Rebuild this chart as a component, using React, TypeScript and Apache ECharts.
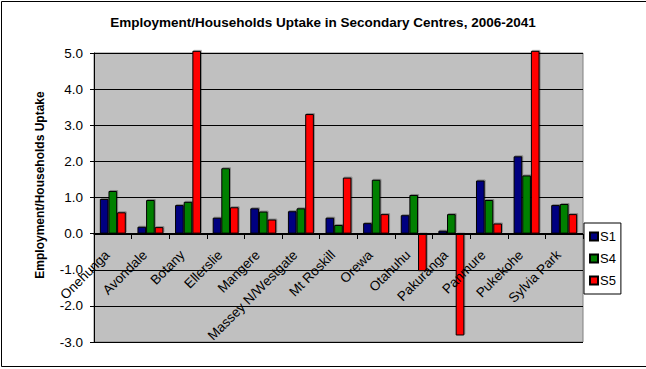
import React, { useEffect, useRef } from "react";
import * as echarts from "echarts";

const categories = [
  "Onehunga", "Avondale", "Botany", "Ellerslie", "Mangere", "Massey N/Westgate",
  "Mt Roskill", "Orewa", "Otahuhu", "Pakuranga", "Panmure", "Pukekohe", "Sylvia Park",
];
const s1 = [0.96, 0.19, 0.79, 0.44, 0.70, 0.62, 0.44, 0.29, 0.51, 0.08, 1.47, 2.14, 0.79];
const s4 = [1.18, 0.93, 0.88, 1.81, 0.61, 0.70, 0.24, 1.49, 1.07, 0.54, 0.93, 1.61, 0.82];
const s5 = [0.59, 0.18, 5.06, 0.73, 0.39, 3.31, 1.55, 0.54, -1.04, -2.82, 0.28, 5.06, 0.54];
const seriesNames = ["S1", "S4", "S5"];
const seriesColors = ["#000080", "#008000", "#FF0000"];

const FONT = "Liberation Sans, Arial, sans-serif";

export default function App() {
  const ref = useRef<HTMLDivElement>(null);
  useEffect(() => {
    if (!ref.current) return;
    const chart = echarts.init(ref.current, null, { renderer: "svg" });
    const data = [s1, s4, s5];
    chart.setOption({
      animation: false,
      backgroundColor: "#ffffff",
      title: {
        text: "Employment/Households Uptake in Secondary Centres, 2006-2041",
        left: "center",
        top: 10,
        textStyle: { fontFamily: FONT, fontSize: 13.5, fontWeight: "bold", color: "#000" },
      },
      legend: {
        orient: "vertical",
        left: 584,
        top: 223,
        width: 39,
        data: seriesNames,
        backgroundColor: "#fff",
        borderColor: "#000",
        borderWidth: 1,
        borderRadius: 0,
        padding: [7, 5, 7, 5],
        itemWidth: 8,
        itemHeight: 8,
        itemGap: 9,
        icon: "rect",
        textStyle: { fontFamily: FONT, fontSize: 13, color: "#000", padding: [0, 0, 0, -3] },
      },
      grid: {
        left: 94,
        right: 63,
        top: 53,
        bottom: 27,
        show: true,
        outerBoundsMode: "none",
        containLabel: false,
        backgroundColor: "#C0C0C0",
        borderColor: "#808080",
        borderWidth: 1,
      },
      xAxis: {
        type: "category",
        data: categories,
        offset: -108,
        z: 10,
        axisLine: { onZero: false, lineStyle: { color: "#000", width: 1 } },
        axisTick: { show: true, length: 5, inside: false, lineStyle: { color: "#000" } },
        axisLabel: {
          rotate: 45,
          interval: 0,
          margin: 13,
          padding: [0, 8, 0, 0],
          hideOverlap: false,
          fontFamily: FONT,
          fontSize: 13.5,
          color: "#000",
        },
        splitLine: { show: false },
      },
      yAxis: {
        type: "value",
        min: -3,
        max: 5,
        interval: 1,
        axisLine: { show: true, lineStyle: { color: "#000" } },
        axisTick: { show: true, length: 4, lineStyle: { color: "#000" } },
        axisLabel: {
          formatter: (v: number) => v.toFixed(1),
          fontFamily: FONT,
          fontSize: 13.5,
          color: "#000",
          margin: 11,
        },
        splitLine: { show: true, lineStyle: { color: "#000", width: 1 } },
      },
      graphic: [
        {
          type: "text",
          x: 40,
          y: 185,
          rotation: Math.PI / 2,
          style: {
            text: "Employment/Households Uptake",
            fontFamily: FONT,
            fontSize: 12,
            fontWeight: "bold",
            fill: "#000",
            textAlign: "center",
            textVerticalAlign: "middle",
          },
        },
        {
          type: "rect",
          shape: { x: 1.5, y: 1.5, width: 700, height: 365 },
          style: { fill: "none", stroke: "#000", lineWidth: 1 },
          silent: true,
        },
      ],
      series: seriesNames.map((name, i) => ({
        name,
        type: "bar",
        data: data[i],
        barGap: "0%",
        barCategoryGap: "31%",
        clip: false,
        itemStyle: {
          color: seriesColors[i],
          borderColor: "#000",
          borderWidth: 1,
          shadowColor: "rgba(0,0,0,0.3)",
          shadowOffsetX: 1,
          shadowOffsetY: -1,
          shadowBlur: 1,
        },
      })),
    });
    return () => chart.dispose();
  }, []);
  return <div ref={ref} style={{ width: 646, height: 369, position: "absolute", left: 0, top: 0 }} />;
}
